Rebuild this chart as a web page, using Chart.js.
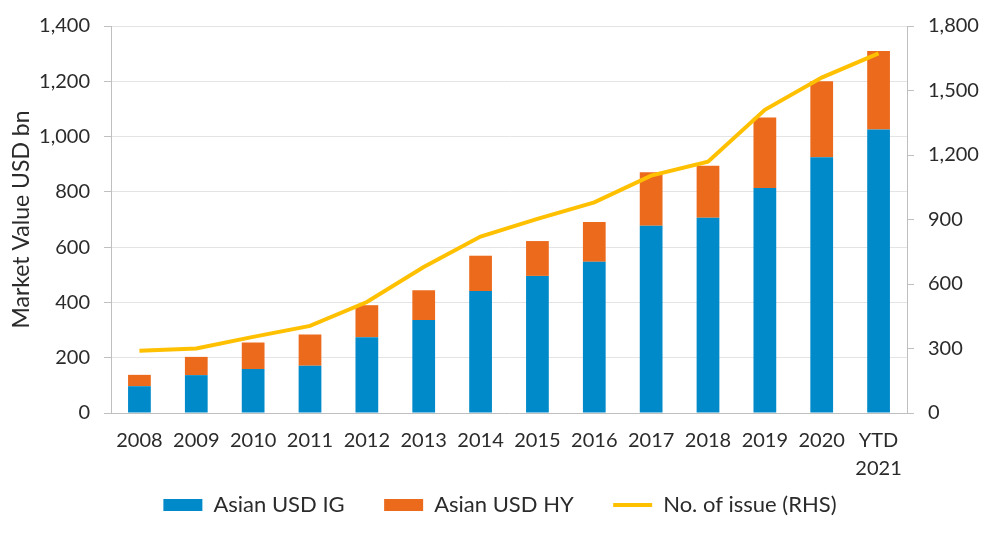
<!DOCTYPE html>
<html>
<head>
<meta charset="utf-8">
<title>Asian USD bond market</title>
<script src="https://cdn.jsdelivr.net/npm/chart.js@4.4.1/dist/chart.umd.min.js"></script>
<style>
  html, body { margin: 0; padding: 0; background: #fff; }
  #wrap { width: 1000px; height: 533px; position: relative; }
</style>
</head>
<body>
<div id="wrap"><canvas id="chart"></canvas></div>
<script>
// values
const years = ["2008", "2009", "2010", "2011", "2012", "2013", "2014",
  "2015", "2016", "2017", "2018", "2019", "2020", ["YTD", "2021"]];
const igValues = [97, 137, 159, 171, 274, 336, 441, 496, 547, 677, 706, 814, 925, 1026];
const hyValues = [41, 66, 96, 113, 116, 108, 128, 126, 144, 194, 188, 255, 275, 284];
const issueCount = [289, 300, 354, 405, 516, 679, 821, 903, 980, 1104, 1169, 1410, 1560, 1673];

const textColor = "#2b2b2b";
const axisColor = "#bfbfbf";
const font = { family: "Lato", size: 20 };
const legendGap = "\u2003\u2002"; // wider space between legend entries

Chart.defaults.font.family = font.family;
Chart.defaults.color = textColor;

const ctx = document.getElementById("chart").getContext("2d");

new Chart(ctx, {
  type: "bar",
  data: {
    labels: years,
    datasets: [
      {
        label: "Asian USD IG",
        data: igValues,
        backgroundColor: "#008ac9",
        yAxisID: "y",
        stack: "mv",
        pointStyle: "rect",
        barPercentage: 0.4,
        categoryPercentage: 1.0,
      },
      {
        label: "Asian USD HY",
        data: hyValues,
        backgroundColor: "#eb6a1c",
        yAxisID: "y",
        stack: "mv",
        pointStyle: "rect",
        barPercentage: 0.4,
        categoryPercentage: 1.0,
      },
      {
        type: "line",
        label: "No. of issue (RHS)",
        data: issueCount,
        borderColor: "#ffc000",
        backgroundColor: "#ffc000",
        borderWidth: 4,
        pointRadius: 0,
        pointStyle: "line",
        tension: 0,
        yAxisID: "y1",
        order: -1, // draw on top of the bars
      },
    ],
  },
  options: {
    responsive: true,
    maintainAspectRatio: false,
    animation: false,
    layout: { padding: { top: 25, left: 0, right: 0, bottom: 7 } },
    plugins: {
      tooltip: { enabled: false },
      legend: {
        position: "bottom",
        labels: {
          usePointStyle: true,
          pointStyleWidth: 39,
          boxHeight: 12,
          padding: 12,
          color: textColor,
          font: { ...font, size: 22 },
          generateLabels: (chart) => {
            const items = Chart.defaults.plugins.legend.labels.generateLabels(chart);
            items.sort((a, b) => a.datasetIndex - b.datasetIndex);
            const last = items.length - 1;
            return items.map((it, i) => (i < last ? { ...it, text: it.text + legendGap } : it));
          },
        },
      },
    },
    scales: {
      x: {
        stacked: true,
        grid: { display: false, drawTicks: false },
        border: { display: true, color: axisColor, width: 1 },
        ticks: {
          color: textColor,
          font: { ...font, lineHeight: 1.4 },
          padding: 14,
          maxRotation: 0,
          minRotation: 0,
          autoSkip: false,
        },
        afterFit: (scale) => { scale.height = 69; },
      },
      y: {
        stacked: true,
        position: "left",
        min: 0,
        max: 1400,
        ticks: {
          stepSize: 200,
          color: textColor,
          font: font,
          padding: 14,
          callback: (v) => v.toLocaleString("en-US"),
        },
        grid: { color: "#e4e4e4", tickLength: 7, tickColor: axisColor },
        border: { color: axisColor },
        title: {
          display: true,
          text: "Market Value USD bn",
          color: textColor,
          font: { ...font, size: 23 },
          padding: { top: 8, bottom: 0 },
        },
        afterFit: (scale) => { scale.width = 111; },
      },
      y1: {
        position: "right",
        min: 0,
        max: 1800,
        ticks: {
          stepSize: 300,
          color: textColor,
          font: font,
          padding: 14,
          callback: (v) => v.toLocaleString("en-US"),
        },
        grid: { drawOnChartArea: false, tickLength: 7, tickColor: axisColor },
        border: { color: axisColor },
        afterFit: (scale) => { scale.width = 93; },
      },
    },
  },
});
</script>
</body>
</html>
